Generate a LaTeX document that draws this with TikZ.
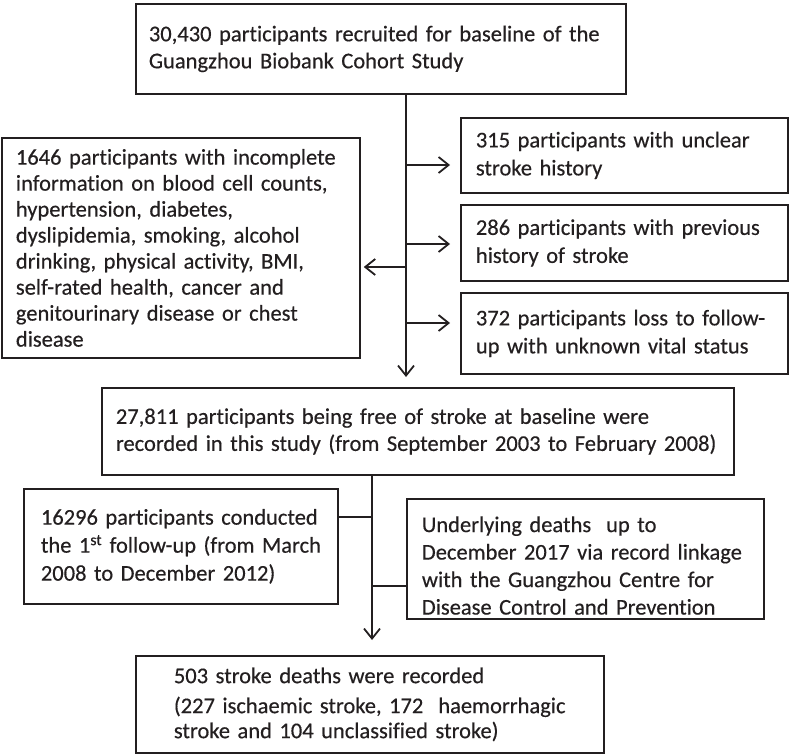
\documentclass[tikz,border=0pt]{standalone}
\usepackage{fontspec}
\setmainfont{Carlito}[Ligatures=NoCommon, FakeBold=0.4]
\usetikzlibrary{arrows.meta}
\definecolor{ink}{HTML}{231F20}
\newcommand\fsz[1]{\fontsize{22.5}{#1}\selectfont}
\begin{document}
\begin{tikzpicture}[x=1pt,y=-1pt,
  box/.style={draw=ink, line width=1.8pt, anchor=north west, align=left,
    inner xsep=0pt, inner ysep=0pt, text=ink, font=\fsz{27}},
  conn/.style={draw=ink, line width=1.8pt},
  arr/.style={conn, -{Straight Barb[length=10pt,width=16pt,line width=1.8pt]}}]
\useasboundingbox (0,0) rectangle (789,754);

% boxes: x, y, width, height, text width = width - 2*pad
\node[box, minimum width=490pt, minimum height=90pt, text width=464pt] (top) at (135,3)
  {\mbox{30,430 participants recruited for baseline of the}\\\mbox{Guangzhou Biobank Cohort Study}};
\node[box, font=\fsz{26}, minimum width=358pt, minimum height=220pt, text width=330pt] (left) at (1,137)
  {\mbox{1646 participants with incomplete}\\\mbox{information on blood cell counts,}\\\mbox{hypertension, diabetes,}\\\mbox{dyslipidemia, smoking, alcohol}\\\mbox{drinking, physical activity, BMI,}\\\mbox{self-rated health, cancer and}\\\mbox{genitourinary disease or chest}\\\mbox{disease}};
\node[box, font=\fsz{28}, minimum width=327pt, minimum height=75pt, text width=297pt] (r1) at (460,117)
  {\mbox{315 participants with unclear}\\\mbox{stroke history}};
\node[box, font=\fsz{28}, minimum width=327pt, minimum height=76pt, text width=297pt] (r2) at (460,204)
  {\mbox{286 participants with previous}\\\mbox{history of stroke}};
\node[box, font=\fsz{28}, minimum width=327pt, minimum height=81pt, text width=297pt] (r3) at (460,292)
  {\mbox{372 participants loss to follow-}\\\mbox{up with unknown vital status}};
\node[box, minimum width=632pt, minimum height=87pt, text width=604pt] (mid) at (101,387)
  {\mbox{27,811 participants being free of stroke at baseline were}\\\mbox{recorded in this study (from September 2003 to February 2008)}};
\node[box, font=\fsz{28}, minimum width=314pt, minimum height=115pt, text width=280pt] (fu) at (23,488)
  {\mbox{16296 participants conducted}\\\mbox{the 1\textsuperscript{st} follow-up (from March}\\\mbox{2008 to December 2012)}};
\node[box, font=\fsz{27.5}, minimum width=357pt, minimum height=120pt, text width=327pt] (ud) at (406,498)
  {\mbox{\rule{0pt}{29pt}Underlying deaths~ up to}\\\mbox{December 2017 via record linkage}\\\mbox{with the Guangzhou Centre for}\\\mbox{Disease Control and Prevention}};
\node[box, font=\fsz{25}, minimum width=468pt, minimum height=97pt, text width=392pt] (bot) at (135,655)
  {\mbox{503 stroke deaths were recorded}\\[5pt]\mbox{(227 ischaemic stroke, 172~ haemorrhagic}\\\mbox{stroke and 104 unclassified stroke)}};

% spine 1
\coordinate (s1) at (406,93);
\coordinate (j1) at (406,165);
\coordinate (j2) at (406,244);
\coordinate (jl) at (406,267);
\coordinate (j3) at (406,323);
\draw[arr, shorten >=10pt] (top.south -| s1) -- (mid.north -| s1);
\draw[arr, shorten >=10pt] (j1) -- (r1.west |- j1);
\draw[arr, shorten >=10pt] (j2) -- (r2.west |- j2);
\draw[arr, shorten >=10pt] (j3) -- (r3.west |- j3);
\draw[arr, shorten >=3pt] (jl) -- (left.east |- jl);

% spine 2
\coordinate (s2) at (372,474);
\coordinate (k1) at (372,517);
\coordinate (k2) at (372,586);
\draw[arr, shorten >=15pt] (mid.south -| s2) -- (bot.north -| s2);
\draw[conn] (k1) -- (fu.east |- k1);
\draw[conn] (k2) -- (ud.west |- k2);
\end{tikzpicture}
\end{document}
